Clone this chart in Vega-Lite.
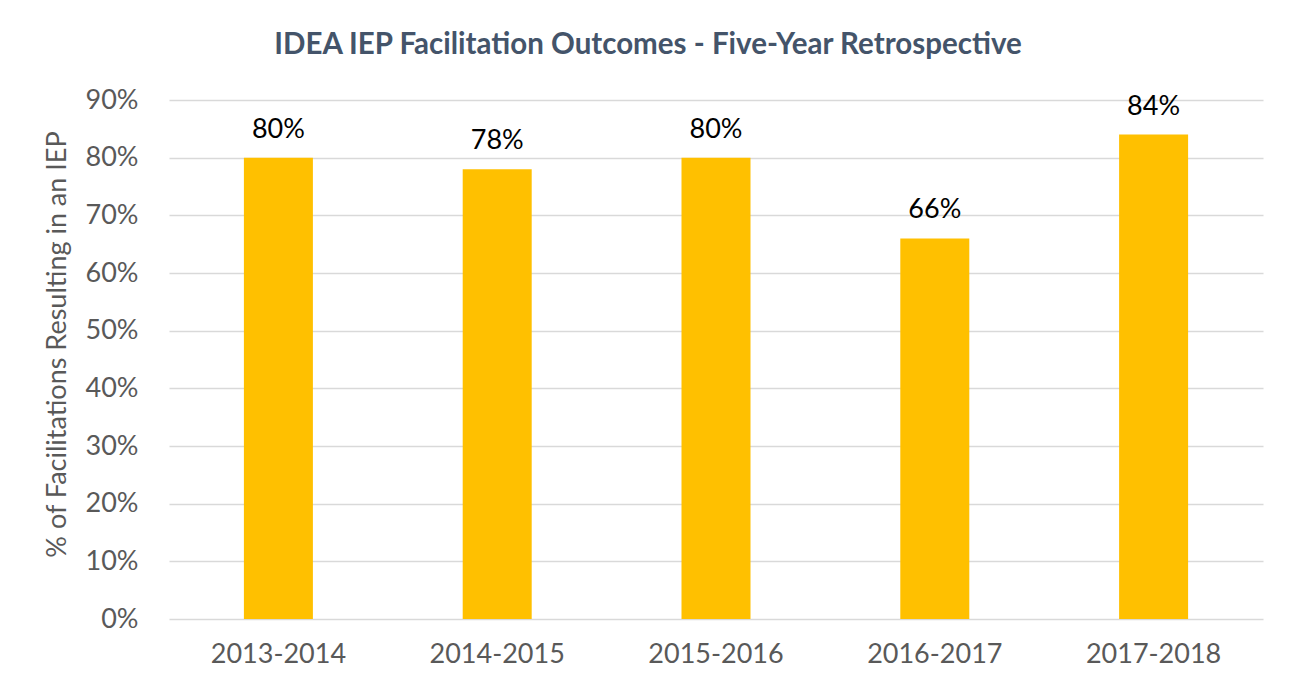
{
  "$schema": "https://vega.github.io/schema/vega-lite/v6.json",
  "width": 1094,
  "height": 519,
  "autosize": {"type": "none"},
  "padding": {"left": 169, "top": 100, "right": 28, "bottom": 75},
  "background": "white",
  "config": {"view": {"stroke": null}, "font": "Lato"},
  "title": {
    "text": "IDEA IEP Facilitation Outcomes - Five-Year Retrospective",
    "font": "Lato",
    "fontSize": 29.5,
    "fontWeight": "bold",
    "color": "#44546A",
    "anchor": "middle",
    "frame": "group",
    "dx": -68,
    "offset": 26
  },
  "data": {
    "values": [
      {"year": "2013-2014", "pct": 0.80},
      {"year": "2014-2015", "pct": 0.78},
      {"year": "2015-2016", "pct": 0.80},
      {"year": "2016-2017", "pct": 0.66},
      {"year": "2017-2018", "pct": 0.84}
    ]
  },
  "encoding": {
    "x": {
      "field": "year",
      "type": "nominal",
      "sort": null,
      "scale": {"paddingInner": 0, "paddingOuter": 0},
      "axis": {
        "title": null,
        "labelAngle": 0,
        "labelFont": "Lato",
        "labelFontSize": 27,
        "labelColor": "#595959",
        "labelPadding": 22,
        "ticks": false,
        "domain": false
      }
    },
    "y": {
      "field": "pct",
      "type": "quantitative",
      "scale": {"domain": [0, 0.9], "nice": false},
      "axis": {
        "title": "% of Facilitations Resulting in an IEP",
        "titleFont": "Lato",
        "titleFontSize": 27,
        "titleFontWeight": "normal",
        "titleColor": "#595959",
        "titleAngle": -90,
        "titleX": -112,
        "titleY": 244,
        "titleAlign": "center",
        "titleBaseline": "middle",
        "values": [0, 0.1, 0.2, 0.3, 0.4, 0.5, 0.6, 0.7, 0.8, 0.9],
        "format": ".0%",
        "labelFont": "Lato",
        "labelFontSize": 27,
        "labelColor": "#595959",
        "labelPadding": 31,
        "ticks": false,
        "domain": false,
        "grid": true,
        "gridColor": "#D9D9D9",
        "gridWidth": 1.5
      }
    }
  },
  "layer": [
    {"mark": {"type": "bar", "color": "#FFC000", "size": 69}},
    {
      "mark": {"type": "text", "font": "Lato", "fontSize": 27, "color": "#000000", "baseline": "alphabetic", "dy": -20},
      "encoding": {"text": {"field": "pct", "type": "quantitative", "format": ".0%"}}
    }
  ]
}
